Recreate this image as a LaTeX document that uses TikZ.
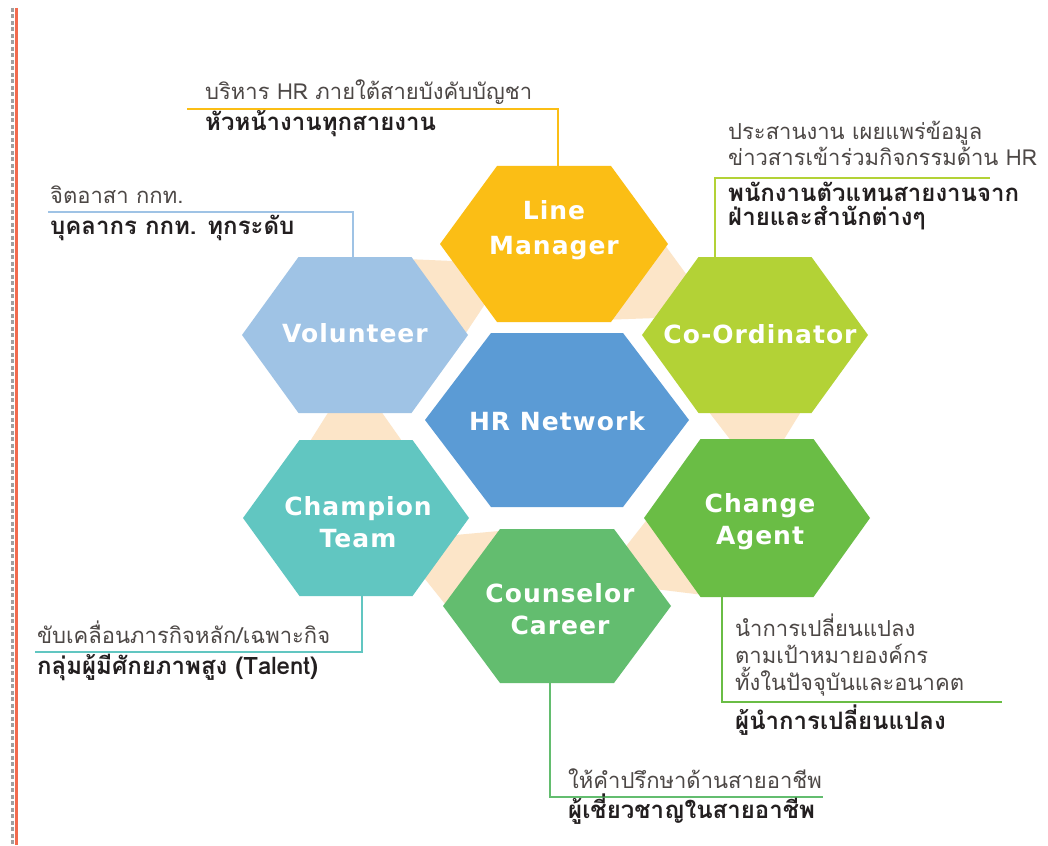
\documentclass[tikz,border=0pt]{standalone}
\usepackage{fontspec}
\usetikzlibrary{calc}
\newfontfamily\thaifont[Script=Thai]{Loma}
\newfontfamily\labelfont[LetterSpace=4]{DejaVu Sans}

\definecolor{lmcol}{RGB}{251,190,21}
\definecolor{vcol}{RGB}{159,195,229}
\definecolor{cocol}{RGB}{179,210,54}
\definecolor{hrcol}{RGB}{91,155,213}
\definecolor{ctcol}{RGB}{97,198,193}
\definecolor{cacol}{RGB}{106,189,69}
\definecolor{cccol}{RGB}{99,189,111}
\definecolor{peach}{RGB}{252,229,200}
\definecolor{edgered}{RGB}{242,107,79}
\definecolor{dashgray}{RGB}{160,160,160}
\definecolor{notecol}{RGB}{77,72,70}
\definecolor{rolecol}{RGB}{35,31,32}

% corner coordinates of a flat-topped hexagon: name, cx, cy, half-width, half-height
\newcommand{\hexcorners}[5]{%
  \coordinate (#1-R)  at (#2+#4,#3);
  \coordinate (#1-TR) at (#2+#4/2,#3-#5);
  \coordinate (#1-TL) at (#2-#4/2,#3-#5);
  \coordinate (#1-L)  at (#2-#4,#3);
  \coordinate (#1-BL) at (#2-#4/2,#3+#5);
  \coordinate (#1-BR) at (#2+#4/2,#3+#5);
  \coordinate (#1-C)  at (#2,#3);
}
\newcommand{\hexfill}[2]{%
  \fill[#2] (#1-R) -- (#1-TR) -- (#1-TL) -- (#1-L) -- (#1-BL) -- (#1-BR) -- cycle;
}
% peach band between two facing hexagon edges, wide on the first edge
\newcommand{\bridge}[4]{%
  \coordinate (bA) at ($(#1)!0.5!(#2)$);
  \coordinate (bB) at ($(#3)!0.5!(#4)$);
  \filldraw[peach, line width=2pt, line join=round]
    ($(bA)!44pt!(#1)$) -- ($(bA)!44pt!(#2)$) -- ($(bB)!26pt!(#4)$) -- ($(bB)!26pt!(#3)$) -- cycle;
}

\tikzset{
  hexlabel/.style={text=white, align=center, inner sep=0pt,
    font=\labelfont\bfseries\fontsize{25}{32}\selectfont},
  callout/.style={draw=#1, line width=1.8pt},
  note/.style={anchor=base west, inner sep=0pt, text=notecol, align=left,
    font=\thaifont\fontsize{22}{24}\selectfont},
  role/.style={anchor=base west, inner sep=0pt, text=rolecol, align=left,
    font=\thaifont\bfseries\fontsize{24}{24}\selectfont},
}

\begin{document}
\begin{tikzpicture}[x=1pt, y=-1pt]
\useasboundingbox (0,0) rectangle (1048,845);
\fill[white] (0,0) rectangle (1048,845);

% hexagon geometry
\hexcorners{HR}{557}{420}{132}{87}
\hexcorners{LM}{554}{244}{114}{78}
\hexcorners{V}{355}{335}{113}{78}
\hexcorners{CO}{755}{335}{113}{78}
\hexcorners{CT}{356}{518}{113}{78}
\hexcorners{CA}{757}{518}{113}{79}
\hexcorners{CC}{557}{606}{114}{77}

% ring of peach bands behind the outer hexagons
\bridge{LM-R}{LM-BR}{CO-TL}{CO-L}
\bridge{CO-BL}{CO-BR}{CA-TL}{CA-TR}
\bridge{CA-L}{CA-BL}{CC-TR}{CC-R}
\bridge{CC-TL}{CC-L}{CT-R}{CT-BR}
\bridge{CT-TL}{CT-TR}{V-BL}{V-BR}
\bridge{V-TR}{V-R}{LM-L}{LM-BL}

% hexagons
\hexfill{HR}{hrcol}
\hexfill{LM}{lmcol}
\hexfill{V}{vcol}
\hexfill{CO}{cocol}
\hexfill{CT}{ctcol}
\hexfill{CA}{cacol}
\hexfill{CC}{cccol}

% hexagon labels
\node[hexlabel] (hr) at (557,421) {HR Network};
\node[hexlabel, font=\labelfont\bfseries\fontsize{25}{35}\selectfont] (lm) at (554,230) {Line\\Manager};
\node[hexlabel] (v) at (355,333) {Volunteer};
\node[hexlabel] (co) at (760,334) {Co-Ordinator};
\node[hexlabel] (ct) at (358,522) {Champion\\Team};
\node[hexlabel] (ca) at (760,522) {Change\\Agent};
\node[hexlabel] (cc) at (560,609) {Counselor\\Career};

% callout lines
\coordinate (lm-foot) at ($(LM-TL)!0.535!(LM-TR)$);
\coordinate (lm-end) at (187,109);
\draw[callout=lmcol] (lm-foot) |- (lm-end);

\coordinate (v-foot) at ($(V-TL)!0.482!(V-TR)$);
\coordinate (v-end) at (48,212);
\draw[callout=vcol] (v-foot) |- (v-end);

\coordinate (co-foot) at ($(CO-TL)!0.146!(CO-TR)$);
\coordinate (co-end) at (990,178);
\draw[callout=cocol] (co-foot) |- (co-end);

\coordinate (ct-foot) at ($(CT-BL)!0.553!(CT-BR)$);
\coordinate (ct-end) at (35,652);
\draw[callout=ctcol] (ct-foot) |- (ct-end);

\coordinate (ca-foot) at ($(CA-BL)!0.19!(CA-BR)$);
\coordinate (ca-end) at (1002,702);
\draw[callout=cacol] (ca-foot) |- (ca-end);

\coordinate (cc-foot) at ($(CC-BL)!0.44!(CC-BR)$);
\coordinate (cc-end) at (823,797);
\draw[callout=cccol] (cc-foot) |- (cc-end);

% notes and roles (multi-line nodes sit on the baseline of their last line)
\node[note] (lm-note) at (205,100) {บริหาร HR ภายใต้สายบังคับบัญชา};
\node[role] (lm-role) at (205,131) {หัวหน้างานทุกสายงาน};

\node[note] (v-note) at (50,203) {จิตอาสา กกท.};
\node[role] (v-role) at (50,234) {บุคลากร กกท. ทุกระดับ};

\node[note] (co-note) at (728,165) {ประสานงาน เผยแพร่ข้อมูล\\ข่าวสารเข้าร่วมกิจกรรมด้าน HR};
\node[role] (co-role) at (728,225) {พนักงานตัวแทนสายงานจาก\\ฝ่ายและสำนักต่างๆ};

\node[note] (ct-note) at (37,643) {ขับเคลื่อนภารกิจหลัก/เฉพาะกิจ};
\node[role] (ct-role) at (37,674) {กลุ่มผู้มีศักยภาพสูง (Talent)};

\node[note, font=\thaifont\fontsize{22}{27}\selectfont] (ca-note) at (735,690) {นำการเปลี่ยนแปลง\\ตามเป้าหมายองค์กร\\ทั้งในปัจจุบันและอนาคต};
\node[role] (ca-role) at (735,729) {ผู้นำการเปลี่ยนแปลง};

\node[note] (cc-note) at (568,788) {ให้คำปรึกษาด้านสายอาชีพ};
\node[role] (cc-role) at (568,818) {ผู้เชี่ยวชาญในสายอาชีพ};

% page edge rules
\draw[dashgray, line width=3pt, dash pattern=on 4pt off 2.5pt] (12,8) -- (12,845);
\draw[edgered, line width=3pt] (16,8) -- (16,845);
\end{tikzpicture}
\end{document}
